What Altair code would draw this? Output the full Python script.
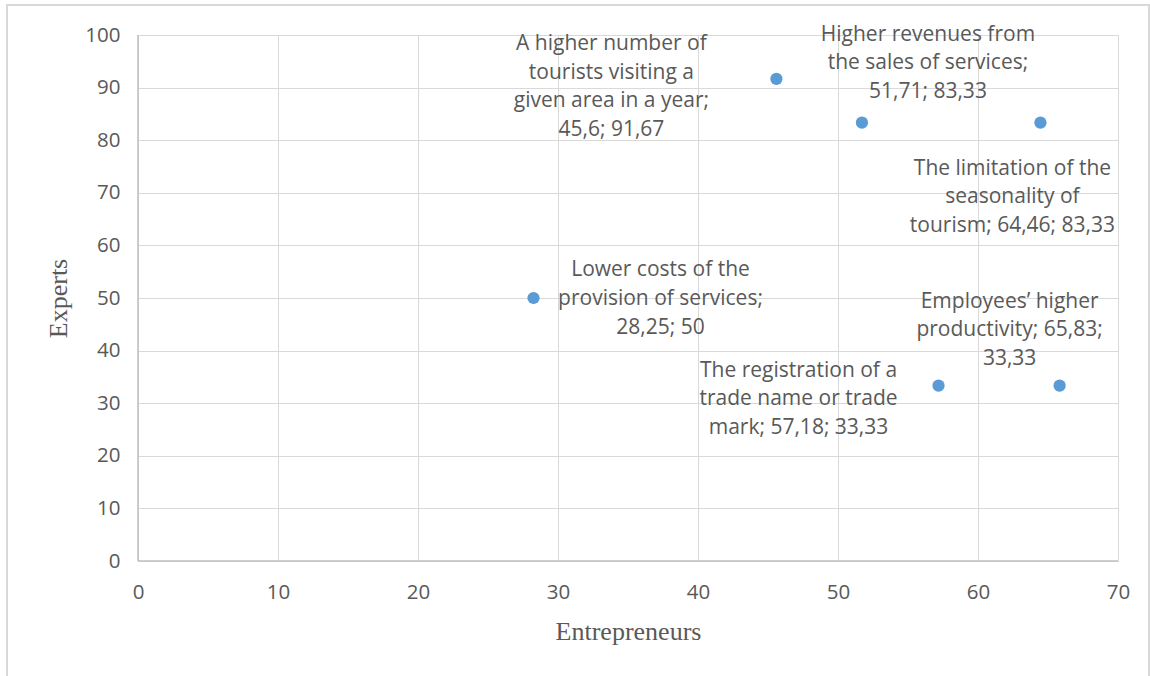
import altair as alt
import pandas as pd

# Data
names = [
    "A higher number of tourists visiting a given area in a year",
    "Higher revenues from the sales of services",
    "The limitation of the seasonality of tourism",
    "Lower costs of the provision of services",
    "Employees' higher productivity",
    "The registration of a trade name or trade mark",
]
entrepreneurs = [45.6, 51.71, 64.46, 28.25, 65.83, 57.18]
experts = [91.67, 83.33, 83.33, 50, 33.33, 33.33]
label_lines = [
    ["A higher number of", "tourists visiting a", "given area in a year;", "45,6; 91,67"],
    ["Higher revenues from", "the sales of services;", "51,71; 83,33"],
    ["The limitation of the", "seasonality of", "tourism; 64,46; 83,33"],
    ["Lower costs of the", "provision of services;", "28,25; 50"],
    ["Employees\u2019 higher", "productivity; 65,83;", "33,33"],
    ["The registration of a", "trade name or trade", "mark; 57,18; 33,33"],
]
x_ticks = [0, 10, 20, 30, 40, 50, 60, 70]
y_ticks = [0, 10, 20, 30, 40, 50, 60, 70, 80, 90, 100]

# label offsets of the first line centre relative to the point (style)
offsets = [(-165, -35), (66, -88), (-28, 46), (127, -28), (-50, -84), (-140, -15)]

df = pd.DataFrame({"name": names, "x": entrepreneurs, "y": experts,
                   "label": label_lines})

FONT = "Open Sans"
GRAY = "#595959"
W, H = 980, 526

xscale = alt.Scale(domain=[0, 70], nice=False, zero=True)
yscale = alt.Scale(domain=[0, 100], nice=False)

base = alt.Chart(df)

points = base.mark_circle(size=150, color="#5b9bd5", opacity=1).encode(
    x=alt.X("x:Q", scale=xscale, title="Entrepreneurs",
            axis=alt.Axis(values=x_ticks, grid=True, gridColor="#d9d9d9",
                          ticks=False, domain=False, labelFlush=False,
                          labelFont=FONT, labelFontSize=20.5, labelColor=GRAY,
                          labelPadding=21, titleFont="Liberation Serif",
                          titleFontSize=26, titleColor=GRAY,
                          titleFontWeight="normal", titleY=70,
                          titleBaseline="middle")),
    y=alt.Y("y:Q", scale=yscale, title="Experts",
            axis=alt.Axis(values=y_ticks, grid=True, gridColor="#d9d9d9",
                          ticks=False, domain=False, labelFlush=False,
                          labelFont=FONT, labelFontSize=20.5, labelColor=GRAY,
                          labelPadding=18, titleFont="Liberation Serif",
                          titleFontSize=26, titleColor=GRAY,
                          titleFontWeight="normal", titleX=-80, titleY=H / 2,
                          titleBaseline="middle")),
)

layers = []
# outer border
border = alt.Chart(pd.DataFrame({"a": [0]})).mark_rect(
    fill=None, stroke="#d9d9d9", strokeWidth=2).encode(
    x=alt.value(-131), x2=alt.value(1011), y=alt.value(-30), y2=alt.value(700))
layers.append(border)

axes_df = pd.DataFrame({"a": [0]})
left_line = alt.Chart(axes_df).mark_rule(color="#bfbfbf", strokeWidth=1.5).encode(
    x=alt.value(0), y=alt.value(0), y2=alt.value(H))
bottom_line = alt.Chart(axes_df).mark_rule(color="#bfbfbf", strokeWidth=1.5).encode(
    x=alt.value(0), x2=alt.value(W), y=alt.value(H))

layers += [points, left_line, bottom_line]

for i, (dx, dy) in enumerate(offsets):
    t = alt.Chart(df.iloc[[i]]).mark_text(
        font=FONT, fontSize=21, color=GRAY, align="center", baseline="middle",
        lineHeight=28.8, dx=dx, dy=dy).encode(
        x=alt.X("x:Q", scale=xscale), y=alt.Y("y:Q", scale=yscale),
        text="label")
    layers.append(t)

chart = alt.layer(*layers).properties(
    width=W, height=H,
    autosize=alt.AutoSizeParams(type="none"),
    padding={"left": 138, "top": 35, "right": 32, "bottom": 115},
).configure_view(stroke=None).configure(background="white")

chart.save("out.html", embed_options={"renderer": "svg", "actions": False})
